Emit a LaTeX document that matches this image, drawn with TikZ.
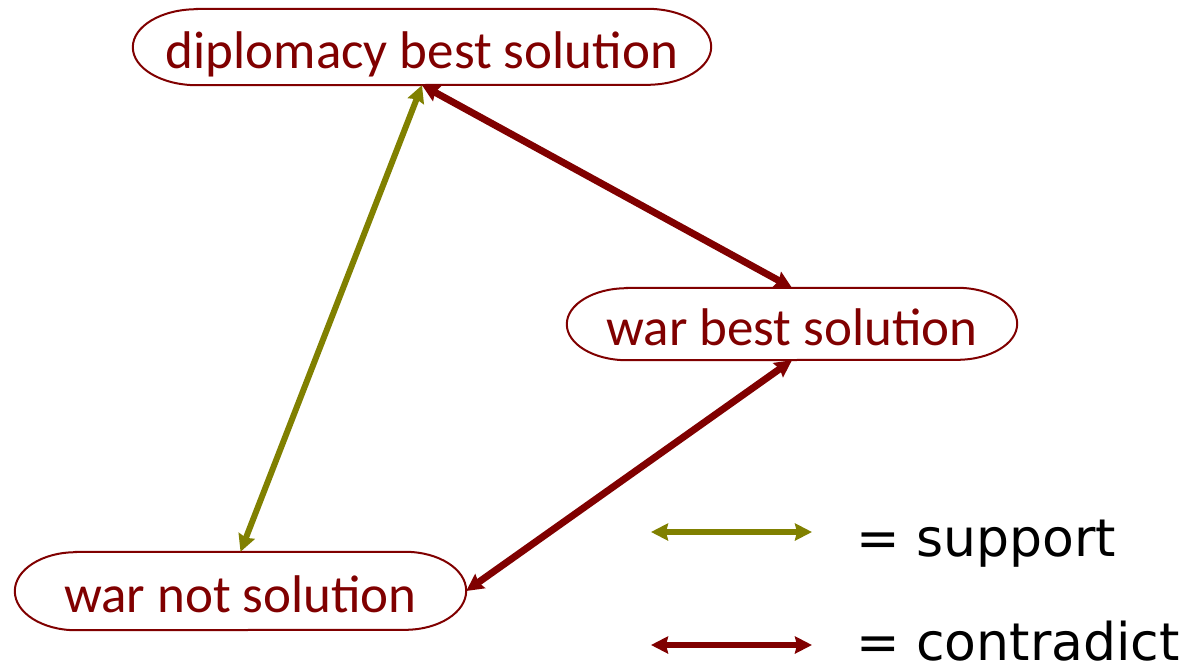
\documentclass[tikz,border=0pt]{standalone}
\usepackage{fontspec}
\setmainfont{Carlito}
\newfontfamily\legendfont{DejaVu Sans}
\usetikzlibrary{arrows.meta}
\definecolor{maroonc}{HTML}{800000}
\definecolor{olivec}{HTML}{808000}
\tikzset{
  claim/.style={inner sep=0pt, text=maroonc, font=\fontsize{53}{60}\selectfont, text height=43pt, text depth=0pt},
  outline/.style={draw=maroonc, line width=2pt},
  supportarrow/.style={draw=olivec, line width=6pt, {Stealth[length=17pt,width=17pt,inset=2pt]}-{Stealth[length=17pt,width=17pt,inset=2pt]}},
  contraarrow/.style={draw=maroonc, line width=7pt, {Stealth[length=17pt,width=17pt,inset=2pt]}-{Stealth[length=17pt,width=17pt,inset=2pt]}},
  legendsupport/.style={draw=olivec, line width=6.5pt, {Stealth[length=17pt,width=17pt,inset=2pt]}-{Stealth[length=17pt,width=17pt,inset=2pt]}},
  legendcontra/.style={draw=maroonc, line width=6.5pt, {Stealth[length=17pt,width=17pt,inset=2pt]}-{Stealth[length=17pt,width=17pt,inset=2pt]}},
  legendtext/.style={inner sep=0pt, text=black, font=\legendfont\fontsize{52}{60}\selectfont}
}
\newcommand{\pilloutline}[3]{%
  \draw[outline] ([xshift=#2]#1.north west) -- ([xshift=-#2]#1.north east)
    arc[start angle=90,end angle=-90,x radius=#2,y radius=#3]
    -- ([xshift=#2]#1.south west)
    arc[start angle=270,end angle=90,x radius=#2,y radius=#3] -- cycle;}
\begin{document}
\begin{tikzpicture}[x=1pt,y=-1pt]
\useasboundingbox (0,0) rectangle (1189,667);
\node[claim, minimum width=578pt, minimum height=76pt] (dip) at (422,47) {diplomacy best solution};
\node[claim, minimum width=450pt, minimum height=72pt] (wbs) at (792,324) {war best solution};
\node[claim, minimum width=451pt, minimum height=78pt] (wns) at (240.5,591) {war not solution};
\pilloutline{dip}{64pt}{38pt}
\pilloutline{wbs}{60pt}{36pt}
\pilloutline{wns}{61pt}{39pt}
\draw[supportarrow] (dip.south) -- (wns.north);
\draw[contraarrow] (dip.south) -- (wbs.north);
\draw[contraarrow] (wbs.south) -- (wns.east);
\coordinate (s1) at (651,532);
\coordinate (s2) at (812,532);
\coordinate (c1) at (651,645);
\coordinate (c2) at (812,645);
\draw[legendsupport] (s1) -- (s2);
\draw[legendcontra] (c1) -- (c2);
\node[legendtext, anchor=base west] (ls) at (856,556) {= support};
\node[legendtext, anchor=base west] (lc) at (856,660) {= contradict};
\end{tikzpicture}
\end{document}
